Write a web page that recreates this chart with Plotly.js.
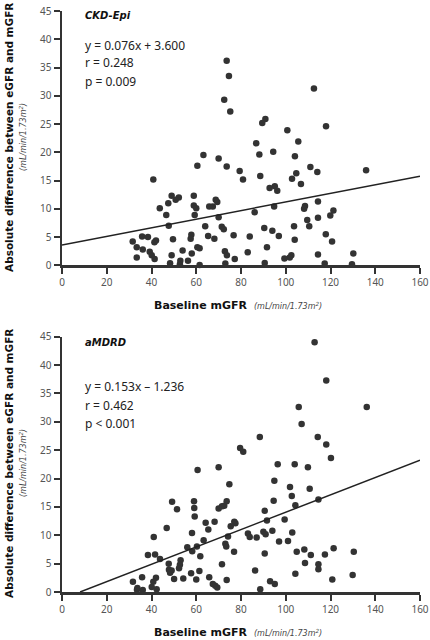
<!DOCTYPE html>
<html>
<head>
<meta charset="utf-8">
<script src="https://cdn.plot.ly/plotly-3.0.1.min.js"></script>
<style>html,body{margin:0;padding:0;background:#fff;}#chart{width:430px;height:640px;}</style>
</head>
<body>
<div id="chart"></div>
<script>
// ---- Data ----
const ckdX = [73.6,74.6,72.5,75.2,112.6,90.9,89.5,100.7,118.0,86.8,105.6,94.4,88.2,63.2,104.1,70.0,60.5,73.6,111.0,79.4,114.1,135.9,104.7,88.6,102.8,40.8,80.9,106.8,95.1,92.8,96.2,49.0,58.9,52.2,50.8,68.7,114.4,69.4,47.5,58.9,108.6,65.8,67.4,94.8,60.0,43.7,108.2,121.3,86.1,46.6,59.3,119.9,70.0,114.4,109.6,47.7,64.0,110.5,103.7,71.4,90.4,72.3,94.0,117.9,57.8,76.7,65.3,96.9,35.8,83.9,38.4,57.5,68.1,49.6,104.0,42.0,31.6,120.7,41.3,33.4,60.5,91.6,61.5,36.1,53.9,72.8,39.2,83.0,58.0,130.2,114.4,40.1,49.0,73.7,102.5,33.4,101.8,99.4,41.4,77.2,52.9,56.3,90.6,48.3,73.0,117.4,52.7,129.6,61.5];
const ckdY = [36.2,33.5,29.3,27.2,31.3,25.9,25.2,23.9,24.6,21.6,21.9,20.1,19.6,19.5,19.3,18.9,17.6,17.5,17.4,16.7,16.5,16.8,16.3,15.8,15.3,15.2,15.2,14.4,14.0,13.7,13.2,12.3,12.3,12.0,11.6,11.6,11.3,11.2,11.0,10.6,10.5,10.4,10.4,10.4,10.1,10.1,10.0,9.7,9.4,8.9,8.9,8.8,8.5,8.4,8.0,7.0,6.9,6.9,6.9,6.8,6.6,6.4,6.1,5.5,5.4,5.3,5.2,5.2,5.1,5.1,5.0,4.7,4.7,4.6,4.5,4.4,4.2,4.2,4.1,3.2,3.2,3.2,3.0,2.8,2.6,2.5,2.4,2.3,2.1,2.1,1.9,1.8,1.8,1.8,1.8,1.4,1.4,1.2,1.1,1.1,0.8,0.8,0.4,0.35,0.3,0.3,0.2,0.2,0.05];

const mdrdX = [112.9,118.1,105.8,136.2,107.1,88.4,114.3,118.1,79.6,81.0,120.2,70.0,96.4,104.0,109.9,60.6,94.9,74.8,101.9,110.7,102.7,94.6,114.6,59.0,73.6,49.2,104.3,72.5,71.5,59.1,70.0,51.4,90.6,59.3,99.5,91.6,77.0,68.2,77.5,64.2,75.4,46.8,65.4,94.0,90.0,102.9,58.1,83.1,91.0,74.2,83.9,41.0,87.0,63.3,101.0,97.0,73.0,73.4,60.3,56.0,121.4,108.3,58.2,76.9,104.9,130.4,90.6,117.5,41.6,38.4,111.2,61.8,43.8,53.0,108.6,47.7,71.5,114.6,52.7,52.3,114.6,47.8,49.0,86.3,61.4,48.3,57.7,104.3,129.9,65.8,35.8,42.0,54.2,50.1,60.0,120.8,73.6,93.0,31.7,40.8,67.4,95.1,68.5,40.1,69.4,33.7,42.3,88.6,33.5,36.1];
const mdrdY = [44.0,37.3,32.6,32.6,29.6,27.3,27.3,26.0,25.4,24.7,23.6,22.0,22.5,22.5,22.0,21.5,19.6,19.0,18.5,18.2,16.9,16.1,16.3,16.0,16.0,15.9,15.3,15.2,15.1,14.8,14.7,14.6,14.3,13.3,12.8,12.6,12.4,12.4,12.1,12.2,11.6,11.3,11.0,10.8,10.6,10.5,10.4,10.3,10.2,9.8,9.7,9.7,9.6,9.1,9.0,8.9,8.5,8.0,8.0,7.9,7.7,7.5,7.2,7.1,7.1,7.1,6.8,6.6,6.6,6.5,6.5,6.3,5.8,5.6,5.1,5.0,4.9,4.9,4.8,4.2,4.0,3.9,3.8,3.8,3.7,3.4,3.3,3.2,3.0,2.6,2.6,2.5,2.4,2.3,2.2,2.2,2.1,1.9,1.8,1.8,1.4,1.4,1.1,0.9,0.8,0.7,0.5,0.5,0.4,0.35];

const panelNames = ["CKD-Epi", "aMDRD"];
const slopes = [0.076, 0.153];
const intercepts = [3.600, -1.236];
const statLines = [
  ["y = 0.076x + 3.600", "r = 0.248", "p = 0.009"],
  ["y = 0.153x \u2013 1.236", "r = 0.462", "p < 0.001"]
];
const xTicks = [0,20,40,60,80,100,120,140,160];
const yTicks = [0,5,10,15,20,25,30,35,40,45];
const xMax = 160;
const xTitle = "Baseline mGFR";
const yTitle = "Absolute difference between eGFR and mGFR";
const unitText = "(mL/min/1.73m<sup>2</sup>)";

// ---- Layout geometry (pixels) ----
const W = 430, H = 640;
const M = {l:62, r:10, t:11, b:48};
const plotW = W - M.l - M.r, plotH = H - M.t - M.b;
const px2x = p => (p - M.l) / plotW;
const px2y = p => (H - M.b - p) / plotH;

const markColor = '#333';

function regLine(i) {
  const m = slopes[i], b = intercepts[i];
  const x0 = Math.max(0, -b / m);
  return {x: [x0, xMax], y: [m * x0 + b, m * xMax + b]};
}

const traces = [];
const sets = [[ckdX, ckdY], [mdrdX, mdrdY]];
sets.forEach((s, i) => {
  const xa = i === 0 ? 'x' : 'x2', ya = i === 0 ? 'y' : 'y2';
  traces.push({x: s[0], y: s[1], xaxis: xa, yaxis: ya, type: 'scatter', mode: 'markers',
    marker: {color: markColor, size: 6.5}, cliponaxis: false, hoverinfo: 'skip'});
  const L = regLine(i);
  traces.push({x: L.x, y: L.y, xaxis: xa, yaxis: ya, type: 'scatter', mode: 'lines',
    line: {color: '#222', width: 1.5}, cliponaxis: false, hoverinfo: 'skip'});
});

const tickFont = {family: 'Noto Sans, sans-serif', size: 10, color: '#555'};
function xAxis(anchor) {
  return {range: [0, xMax], tickvals: xTicks, ticktext: xTicks.map(String), showgrid: false, zeroline: false,
    showline: true, linecolor: '#333', linewidth: 2.5, ticks: 'outside', ticklen: 6, tickwidth: 2,
    tickcolor: '#333', tickfont: tickFont, anchor: anchor, domain: [0, 1], fixedrange: true};
}
function yAxis(anchor, dom) {
  return {range: [0, 45], tickvals: yTicks, ticktext: yTicks.map(String), showgrid: false, zeroline: false,
    showline: true, linecolor: '#333', linewidth: 2.5, ticks: 'outside', ticklen: 6, tickwidth: 2,
    tickcolor: '#333', tickfont: tickFont, anchor: anchor, domain: dom, fixedrange: true};
}

const topDom = [px2y(265.3), 1];
const botDom = [0, px2y(336.7)];

const annotations = [];
const panelGeom = [
  {label: 15, stats: [45, 63, 81], yTitleC: 138, xTitleY: 305},
  {label: 342, stats: [386, 405, 423], yTitleC: 464, xTitleY: 632}
];
panelGeom.forEach((g, i) => {
  annotations.push({xref: 'paper', yref: 'paper', x: px2x(83), y: px2y(g.label), xanchor: 'left', yanchor: 'middle',
    text: '<b><i>' + panelNames[i] + '</i></b>', showarrow: false,
    font: {family: 'DejaVu Sans, sans-serif', size: 10, color: '#111'}});
  statLines[i].forEach((t, k) => {
    annotations.push({xref: 'paper', yref: 'paper', x: px2x(83), y: px2y(g.stats[k]), xanchor: 'left', yanchor: 'middle',
      text: t, showarrow: false, font: {family: 'Noto Sans, sans-serif', size: 12, color: '#222'}});
  });
  annotations.push({xref: 'paper', yref: 'paper', x: px2x(9), y: px2y(g.yTitleC), xanchor: 'center', yanchor: 'middle',
    textangle: -90, text: '<b>' + yTitle + '</b>', showarrow: false,
    font: {family: 'DejaVu Sans, sans-serif', size: 10.5, color: '#111'}});
  annotations.push({xref: 'paper', yref: 'paper', x: px2x(23), y: px2y(g.yTitleC - 1), xanchor: 'center', yanchor: 'middle',
    textangle: -90, text: '<i>' + unitText + '</i>', showarrow: false,
    font: {family: 'DejaVu Sans, sans-serif', size: 8, color: '#444'}});
  annotations.push({xref: 'paper', yref: 'paper', x: px2x(249), y: px2y(g.xTitleY), xanchor: 'right', yanchor: 'middle',
    text: '<b>' + xTitle + '</b>', showarrow: false,
    font: {family: 'DejaVu Sans, sans-serif', size: 11, color: '#111'}});
  annotations.push({xref: 'paper', yref: 'paper', x: px2x(252), y: px2y(g.xTitleY + 1), xanchor: 'left', yanchor: 'middle',
    text: '<i>' + unitText + '</i>', showarrow: false,
    font: {family: 'DejaVu Sans, sans-serif', size: 8, color: '#444'}});
});

const layout = {
  width: W, height: H, margin: M, showlegend: false,
  paper_bgcolor: '#fff', plot_bgcolor: '#fff',
  xaxis: xAxis('y'), yaxis: yAxis('x', topDom),
  xaxis2: xAxis('y2'), yaxis2: yAxis('x2', botDom),
  annotations: annotations
};

Plotly.newPlot('chart', traces, layout, {displayModeBar: false, staticPlot: true});
</script>
</body>
</html>
